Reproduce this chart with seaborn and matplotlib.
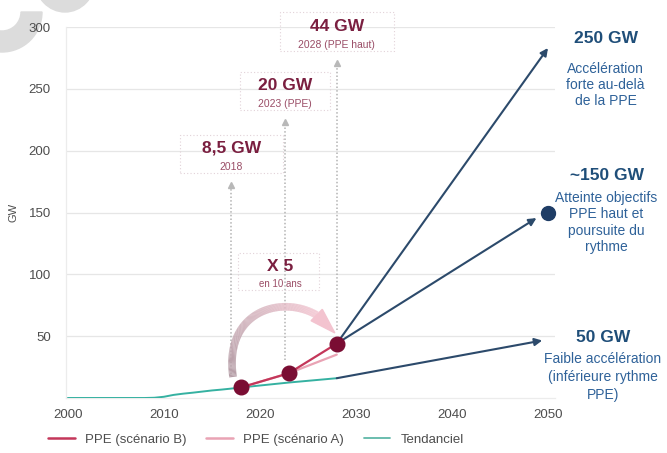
import numpy as np
import pandas as pd
import matplotlib
matplotlib.use("Agg")
import matplotlib.pyplot as plt
import seaborn as sns
from matplotlib.patches import Wedge, Ellipse, Rectangle, Polygon
from matplotlib.collections import LineCollection
from matplotlib.lines import Line2D
from matplotlib.transforms import IdentityTransform

# ---- data -------------------------------------------------------------
trend_years = [2000, 2001, 2002, 2003, 2004, 2005, 2006, 2007, 2008, 2009,
               2010, 2011, 2012, 2013, 2014, 2015, 2016, 2017, 2018, 2023, 2028]
trend_values = [0, 0, 0, 0, 0, 0, 0, 0, 0, 0.2,
                1.0, 2.5, 3.5, 4.3, 5.2, 6.1, 6.8, 7.6, 8.5, 12.5, 16.0]

ppe_years = [2018, 2023, 2028]
ppe_b = [8.5, 20, 44]
ppe_a = [8.5, 20, 35.1]
ppe_titles = ["8,5 GW", "20 GW", "44 GW"]
ppe_subtitles = ["2018", "2023 (PPE)", "2028 (PPE haut)"]

horizon = 2050
scen_titles = ["250 GW", "~150 GW", "50 GW"]
scen_values = [250, 150, 50]
scen_texts = ["Accélération\nforte au-delà\nde la PPE",
              "Atteinte objectifs\nPPE haut et\npoursuite du\nrythme",
              "Faible accélération\n(inférieure rythme\nPPE)"]

x_ticks = [2000, 2010, 2020, 2030, 2040, 2050]
y_ticks = [50, 100, 150, 200, 250, 300]

# ---- style ------------------------------------------------------------
sns.set_theme(style="white")
plt.rcParams["font.family"] = ["Liberation Sans", "DejaVu Sans"]

C_B = "#c4375a"
C_A = "#e9a3b4"
C_TREND = "#35b1a1"
C_DOT = "#7a0d33"
C_NAVY = "#2c4a6b"
C_TITLE = "#1f4e79"
C_DESC = "#2f6299"
C_MAROON = "#7a1f40"
C_MAROON2 = "#9a4d66"
C_GRID = "#e6e6e6"
C_TICK = "#4d4d4d"

fig = plt.figure(figsize=(6.67, 4.53), dpi=100)
fig.patch.set_facecolor("white")
ax = fig.add_axes([66 / 667, 55 / 453, 488.7 / 667, 371 / 453])
ax.set_zorder(1)

# decorative grey shapes in the upper-left corner
H = 453
deco = "#dcdcdc"
fig.add_artist(Wedge((2, H - 12), 40, 180, 360, width=21, color=deco,
                     transform=IdentityTransform(), zorder=0))
fig.add_artist(Ellipse((65, H + 20), 60, 64, color=deco,
                       transform=IdentityTransform(), zorder=0))

# ---- series -----------------------------------------------------------
trend_df = pd.DataFrame({"year": trend_years, "GW": trend_values})
ppe_df = pd.DataFrame({"year": ppe_years * 2,
                       "GW": ppe_a + ppe_b,
                       "serie": ["A"] * 3 + ["B"] * 3})

sns.lineplot(data=trend_df, x="year", y="GW", ax=ax, color=C_TREND, lw=1.4,
             zorder=3)
sns.lineplot(data=ppe_df[ppe_df.serie == "A"], x="year", y="GW", ax=ax,
             color=C_A, lw=1.6, zorder=4)
sns.lineplot(data=ppe_df[ppe_df.serie == "B"], x="year", y="GW", ax=ax,
             color=C_B, lw=1.6, zorder=5)

# scenario arrows toward 2050
arrow_kw = dict(arrowstyle="-|>", color=C_NAVY, lw=1.5, mutation_scale=11,
                shrinkA=0, shrinkB=0)
ax.annotate("", xy=(horizon, 283), xytext=(ppe_years[2], ppe_b[2]),
            arrowprops=arrow_kw, zorder=4, annotation_clip=False)
ax.annotate("", xy=(horizon - 1.2, scen_values[1] - 4.5),
            xytext=(ppe_years[2], ppe_b[2]),
            arrowprops=arrow_kw, zorder=4, annotation_clip=False)
ax.annotate("", xy=(horizon - 0.6, scen_values[2] - 3.5),
            xytext=(trend_years[-1], trend_values[-1]),
            arrowprops=arrow_kw, zorder=4, annotation_clip=False)
ax.plot([horizon], [scen_values[1]], "o", color="#1f3d66", ms=10,
        clip_on=False, zorder=6)

# PPE milestone markers
ax.plot(ppe_years, ppe_b, "o", color=C_DOT, ms=10.5, zorder=7,
        markeredgecolor=C_DOT)

# ---- axes -------------------------------------------------------------
ax.set_xlim(1999.8, 2050.7)
ax.set_ylim(0, 300)
ax.set_xticks(x_ticks)
ax.set_yticks(y_ticks)
ax.tick_params(axis="both", length=0, labelsize=9.5, labelcolor=C_TICK)
ax.tick_params(axis="y", pad=11)
ax.tick_params(axis="x", pad=8)
ax.grid(axis="y", color=C_GRID, lw=0.9)
ax.set_axisbelow(True)
for s in ["top", "right"]:
    ax.spines[s].set_visible(False)
for s in ["left", "bottom"]:
    ax.spines[s].set_color("#ececec")
    ax.spines[s].set_linewidth(0.9)
ax.set_xlabel("")
ax.set_ylabel("GW", fontsize=8, color=C_TICK)
ax.yaxis.set_label_coords(-0.097, 0.5)

# ---- PPE milestone labels --------------------------------------------
label_pos = [(2017.0, 202.0), (2022.6, 253.0), (2028.0, 300.8)]
box_w = [10.7, 9.4, 11.9]
for i, (lx, ly) in enumerate(label_pos):
    ax.text(lx, ly, ppe_titles[i], ha="center", va="center", fontsize=12.5,
            fontweight="bold", color=C_MAROON, zorder=8)
    ax.text(lx, ly - 15, ppe_subtitles[i], ha="center", va="center",
            fontsize=7.5, color=C_MAROON2, zorder=8)
    bottom = ly - 20
    ax.add_patch(Rectangle((lx - box_w[i] / 2, bottom), box_w[i], 31,
                           fill=False, ec="#e2d2d8", lw=0.8, ls=(0, (1, 2)),
                           clip_on=False, zorder=2))
    tip = bottom - 10
    ax.plot([lx, lx], [ppe_b[i] + 11, tip - 2], color="#b3b3b3", lw=1.1,
            ls=(0, (1, 1.4)), zorder=2)
    ax.plot([lx], [tip], marker="^", color="#b8b8b8", ms=4.5, zorder=2)

# "X 5" growth callout
ax.text(2022.1, 106.7, "X 5", ha="center", va="center", fontsize=12.5,
        fontweight="bold", color=C_MAROON, zorder=8)
ax.text(2022.1, 92.5, "en 10 ans", ha="center", va="center", fontsize=7,
        color=C_MAROON2, zorder=8)
ax.add_patch(Rectangle((2017.7, 87.3), 8.5, 30, fill=False, ec="#e2d2d8",
                       lw=0.8, ls=(0, (1, 2)), zorder=2))

# curved growth arrow from 2018 to 2028 (gradient shaft + head)
P = np.array([[ppe_years[0] - 0.8, ppe_b[0] + 8.5],
              [2016.0, 82.0],
              [2025.2, 87.3],
              [ppe_years[2] - 0.2, ppe_b[2] + 8.6]])
t = np.linspace(0, 1, 200)[:, None]
curve = ((1 - t) ** 3 * P[0] + 3 * (1 - t) ** 2 * t * P[1]
         + 3 * (1 - t) * t ** 2 * P[2] + t ** 3 * P[3])
pix = ax.transData.transform(curve)
n_shaft = 165
segs = np.stack([curve[:n_shaft - 1], curve[1:n_shaft]], axis=1)
c0 = np.array(matplotlib.colors.to_rgb("#b59ea7"))
c1 = np.array(matplotlib.colors.to_rgb("#f3c3cf"))
cols = [tuple(c0 + (c1 - c0) * k / (n_shaft - 2)) for k in range(n_shaft - 1)]
ax.add_collection(LineCollection(segs, colors=cols, linewidths=5.5,
                                 capstyle="butt", zorder=3))
base = pix[n_shaft - 1]
tipp = pix[-1]
d = tipp - base
d = d / np.linalg.norm(d)
nrm = np.array([-d[1], d[0]])
head_pix = np.array([base + nrm * 8, tipp, base - nrm * 8])
head = ax.transData.inverted().transform(head_pix)
ax.add_patch(Polygon(head, closed=True, color="#f3c3cf", zorder=3))

# ---- 2050 scenario labels --------------------------------------------
title_pos = [(2056.0, 291.0), (2056.1, 180.3), (2055.7, 49.3)]
desc_pos = [(2056.0, 253.0), (2056.1, 141.9), (2055.7, 17.0)]
spacing = [1.2, 1.2, 1.35]
for i in range(3):
    ax.text(*title_pos[i], scen_titles[i], ha="center", va="center",
            fontsize=12.5, fontweight="bold", color=C_TITLE, zorder=8)
    ax.text(*desc_pos[i], scen_texts[i], ha="center", va="center",
            fontsize=10, color=C_DESC, linespacing=spacing[i], zorder=8)

# ---- legend ------------------------------------------------------------
handles = [Line2D([0], [0], color=C_B, lw=1.8),
           Line2D([0], [0], color=C_A, lw=1.8),
           Line2D([0], [0], color="#5fb8a8", lw=1.3)]
labels = ["PPE (scénario B)", "PPE (scénario A)", "Tendanciel"]
fig.legend(handles, labels, loc="center", bbox_to_anchor=(0.384, 0.029),
           ncol=3, frameon=False, fontsize=9.5, handlelength=2.0,
           handletextpad=0.8, columnspacing=1.5,
           labelcolor=C_TICK)

fig.savefig("out.png", dpi=100, facecolor="white")
